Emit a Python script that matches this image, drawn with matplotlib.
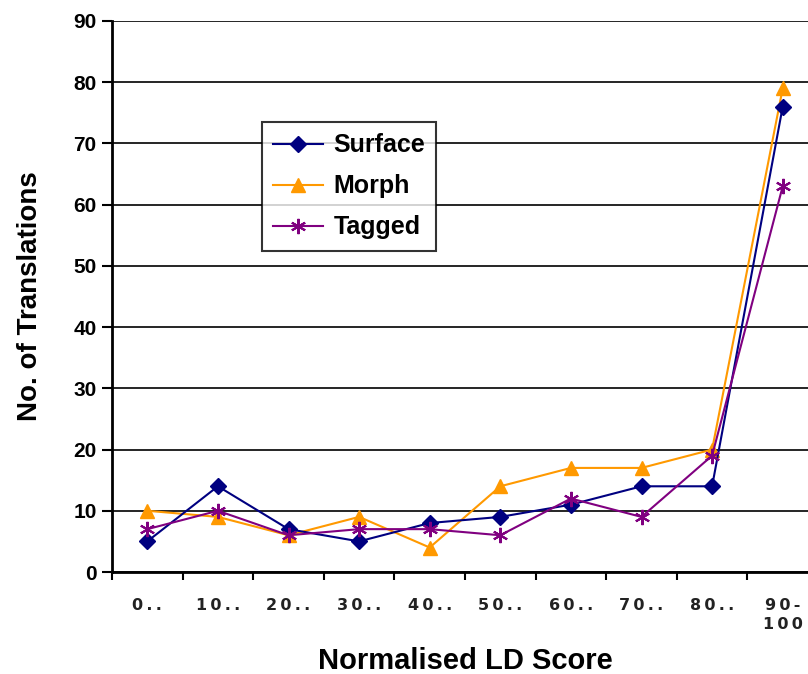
import numpy as np
import matplotlib
matplotlib.use("Agg")
from matplotlib import pyplot as plt

plt.rcParams["font.family"] = ["Liberation Sans", "DejaVu Sans"]

categories = ["0..", "10..", "20..", "30..", "40..", "50..", "60..", "70..", "80..", "90-\n100"]
surface = [5, 14, 7, 5, 8, 9, 11, 14, 14, 76]
morph = [10, 9, 6, 9, 4, 14, 17, 17, 20, 79]
tagged = [7, 10, 6, 7, 7, 6, 12, 9, 19, 63]


def spaced(s):
    # open up the letters a little with thin spaces
    return "\n".join("\u2009".join(line) for line in s.split("\n"))


fig = plt.figure(figsize=(8.08, 6.74), dpi=100)
ax = fig.add_axes([112 / 808, 102 / 674, 706 / 808, 551 / 674])

xs = np.arange(len(categories))
ax.plot(xs, surface, color="#000080", marker="D", markersize=8, lw=1.5, label="Surface", clip_on=False, zorder=4)
ax.plot(xs, morph, color="#FF9900", marker="^", markersize=10, lw=1.5, label="Morph", clip_on=False, zorder=3)
ax.plot(xs, tagged, color="#800080", marker=(6, 2, 0), markersize=11, mew=1.5, lw=1.5, label="Tagged", clip_on=False, zorder=5)

ax.set_xlim(-0.5, len(categories) - 0.5)
ax.set_ylim(0, 90)
ax.set_yticks(range(0, 91, 10))
ax.yaxis.grid(True, color="black", lw=1.2)
ax.set_axisbelow(True)

# labels sit under the categories, tick marks between them
ax.set_xticks(xs)
ax.set_xticklabels([spaced(c) for c in categories], fontsize=11.5, fontweight="bold",
                   family=["DejaVu Sans"], linespacing=1.3, color="#222222")
ax.set_xticks(np.arange(-0.5, len(categories), 1), minor=True)
ax.tick_params(axis="x", which="major", length=0, pad=19)
ax.tick_params(axis="x", which="minor", length=6, width=1.5, direction="out")
ax.tick_params(axis="y", length=7, width=1.5, labelsize=15, pad=4)
for lbl in ax.get_yticklabels():
    lbl.set_fontweight("bold")

for side in ["top", "right"]:
    ax.spines[side].set_visible(False)
for side in ["left", "bottom"]:
    ax.spines[side].set_linewidth(2)

ax.set_ylabel("No. of Translations", fontsize=20, fontweight="bold", labelpad=22)
ax.set_xlabel("Normalised LD Score", fontsize=21, fontweight="bold", labelpad=11)

leg = ax.legend(loc="upper left", bbox_to_anchor=(150 / 706, 1 - 101 / 551),
                prop={"weight": "bold", "size": 18}, frameon=True, fancybox=False,
                edgecolor="black", borderpad=0.45, handlelength=2.0, handletextpad=0.4,
                labelspacing=0.68, borderaxespad=0)
leg.get_frame().set_linewidth(1.5)
leg.set_zorder(6)

fig.savefig("out.png", dpi=100)
